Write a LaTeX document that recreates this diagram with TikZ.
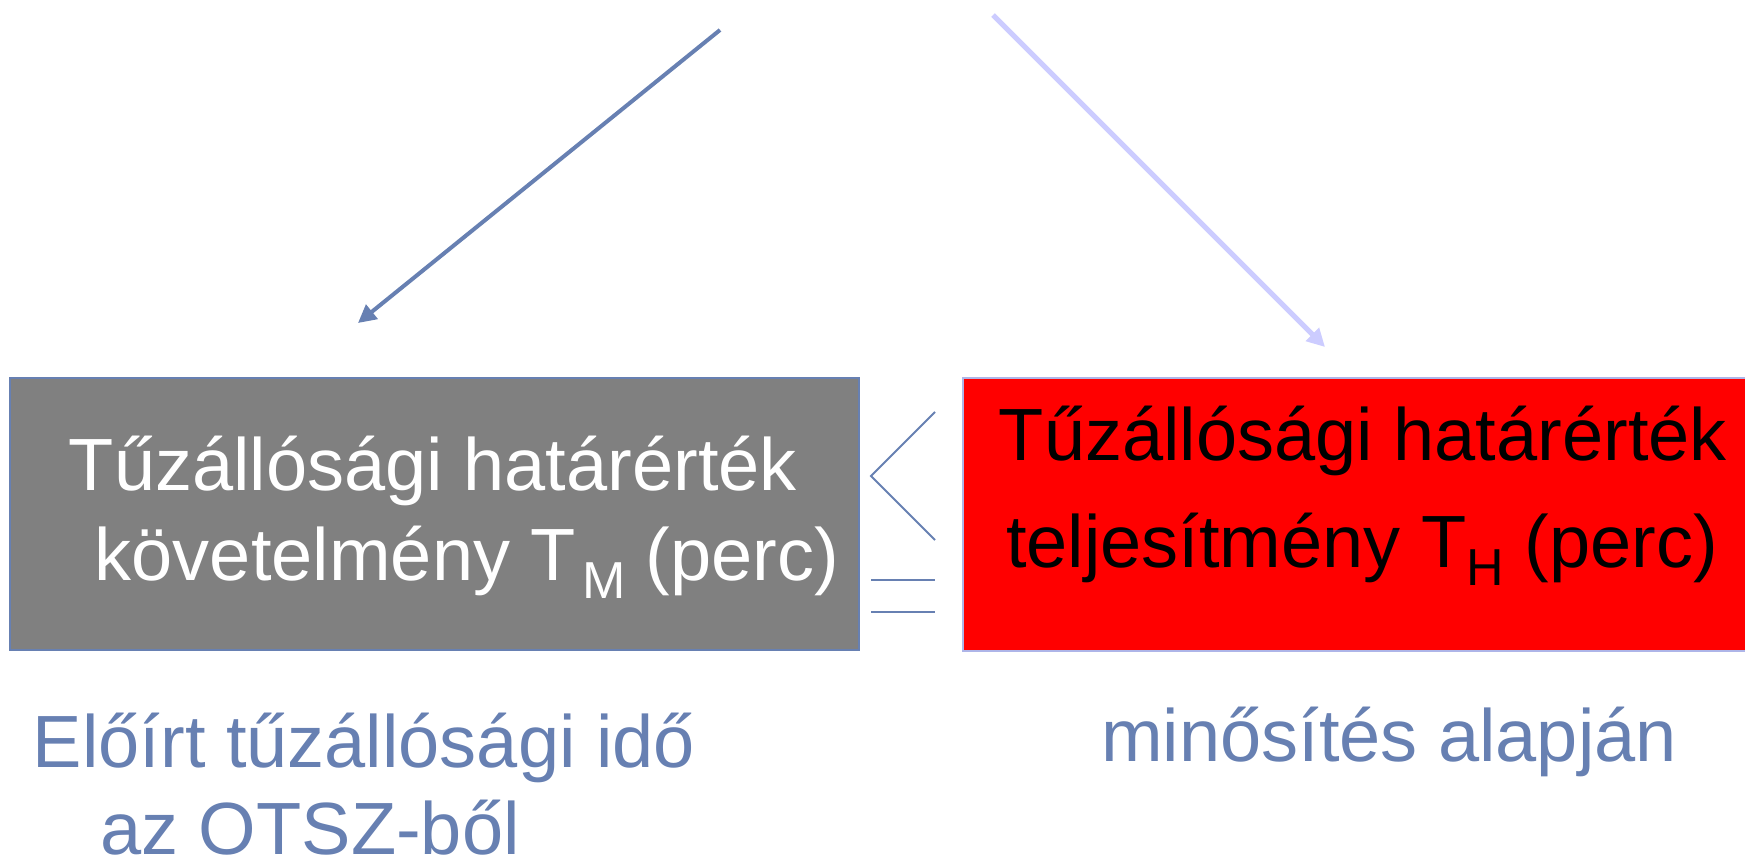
\documentclass[tikz,border=0pt]{standalone}
\usepackage{fontspec}
\setmainfont{Liberation Sans}
\usetikzlibrary{arrows.meta}
\definecolor{steel}{RGB}{103,128,178}
\definecolor{lavender}{RGB}{204,204,255}
\definecolor{boxgray}{RGB}{128,128,128}
\definecolor{boxred}{RGB}{255,0,0}
\newcommand{\bigtext}{\fontsize{74}{74}\selectfont}
\newcommand{\subtext}[1]{{\fontsize{52}{52}\selectfont\raisebox{-18pt}{#1}}}
\begin{document}
\begin{tikzpicture}[x=1pt,y=-1pt,
  valuebox/.style={draw=steel, line width=1.5pt, inner sep=0pt, anchor=north west},
  boxtext/.style={anchor=base, inner sep=0pt, font=\bigtext},
  caption/.style={anchor=base, inner sep=0pt, font=\bigtext, text=steel},
  relline/.style={draw=steel, line width=2pt},
  flow/.style={line width=4pt, -{Triangle[length=18pt,width=18pt]}}]
\useasboundingbox (0,0) rectangle (1745,859);

% the two value boxes
\node[valuebox, fill=boxgray, minimum width=849pt, minimum height=272pt] (req) at (9,377) {};
\node[valuebox, fill=boxred, draw=lavender!70!steel, minimum width=810pt, minimum height=273pt] (perf) at (962,377) {};

% box texts
\node[boxtext, text=white] (reqa) at (433,490) {Tűzállósági határérték};
\node[boxtext, text=white] (reqb) at (467,580) {követelmény T\hspace{6pt}\subtext{M} (perc)};
\node[boxtext, text=black] (perfa) at (1363,460) {Tűzállósági határérték};
\node[boxtext, text=black] (perfb) at (1362,567) {teljesítmény T\subtext{H} (perc)};

% captions under the boxes
\node[caption] (capa) at (364,767) {Előírt tűzállósági idő};
\node[caption] (capb) at (310,854) {az OTSZ-ből};
\node[caption] (capc) at (1389,761) {minősítés alapján};

% "less than or equal" sign between the boxes
\coordinate (lt1) at (935,412);
\coordinate (ltv) at (871,476);
\coordinate (lt2) at (935,540);
\coordinate (eq1a) at (871,580);
\coordinate (eq1b) at (935,580);
\coordinate (eq2a) at (871,612);
\coordinate (eq2b) at (935,612);
\draw[relline] (lt1) -- (ltv) -- (lt2);
\draw[relline] (eq1a) -- (eq1b);
\draw[relline] (eq2a) -- (eq2b);

% incoming arrows
\coordinate (srcl) at (720,30);
\coordinate (tipl) at (358,323);
\coordinate (srcr) at (993,15);
\coordinate (tipr) at (1325,347);
\draw[flow, draw=steel, fill=steel] (srcl) -- (tipl);
\draw[flow, draw=lavender, fill=lavender, line width=5pt] (srcr) -- (tipr);
\end{tikzpicture}
\end{document}
